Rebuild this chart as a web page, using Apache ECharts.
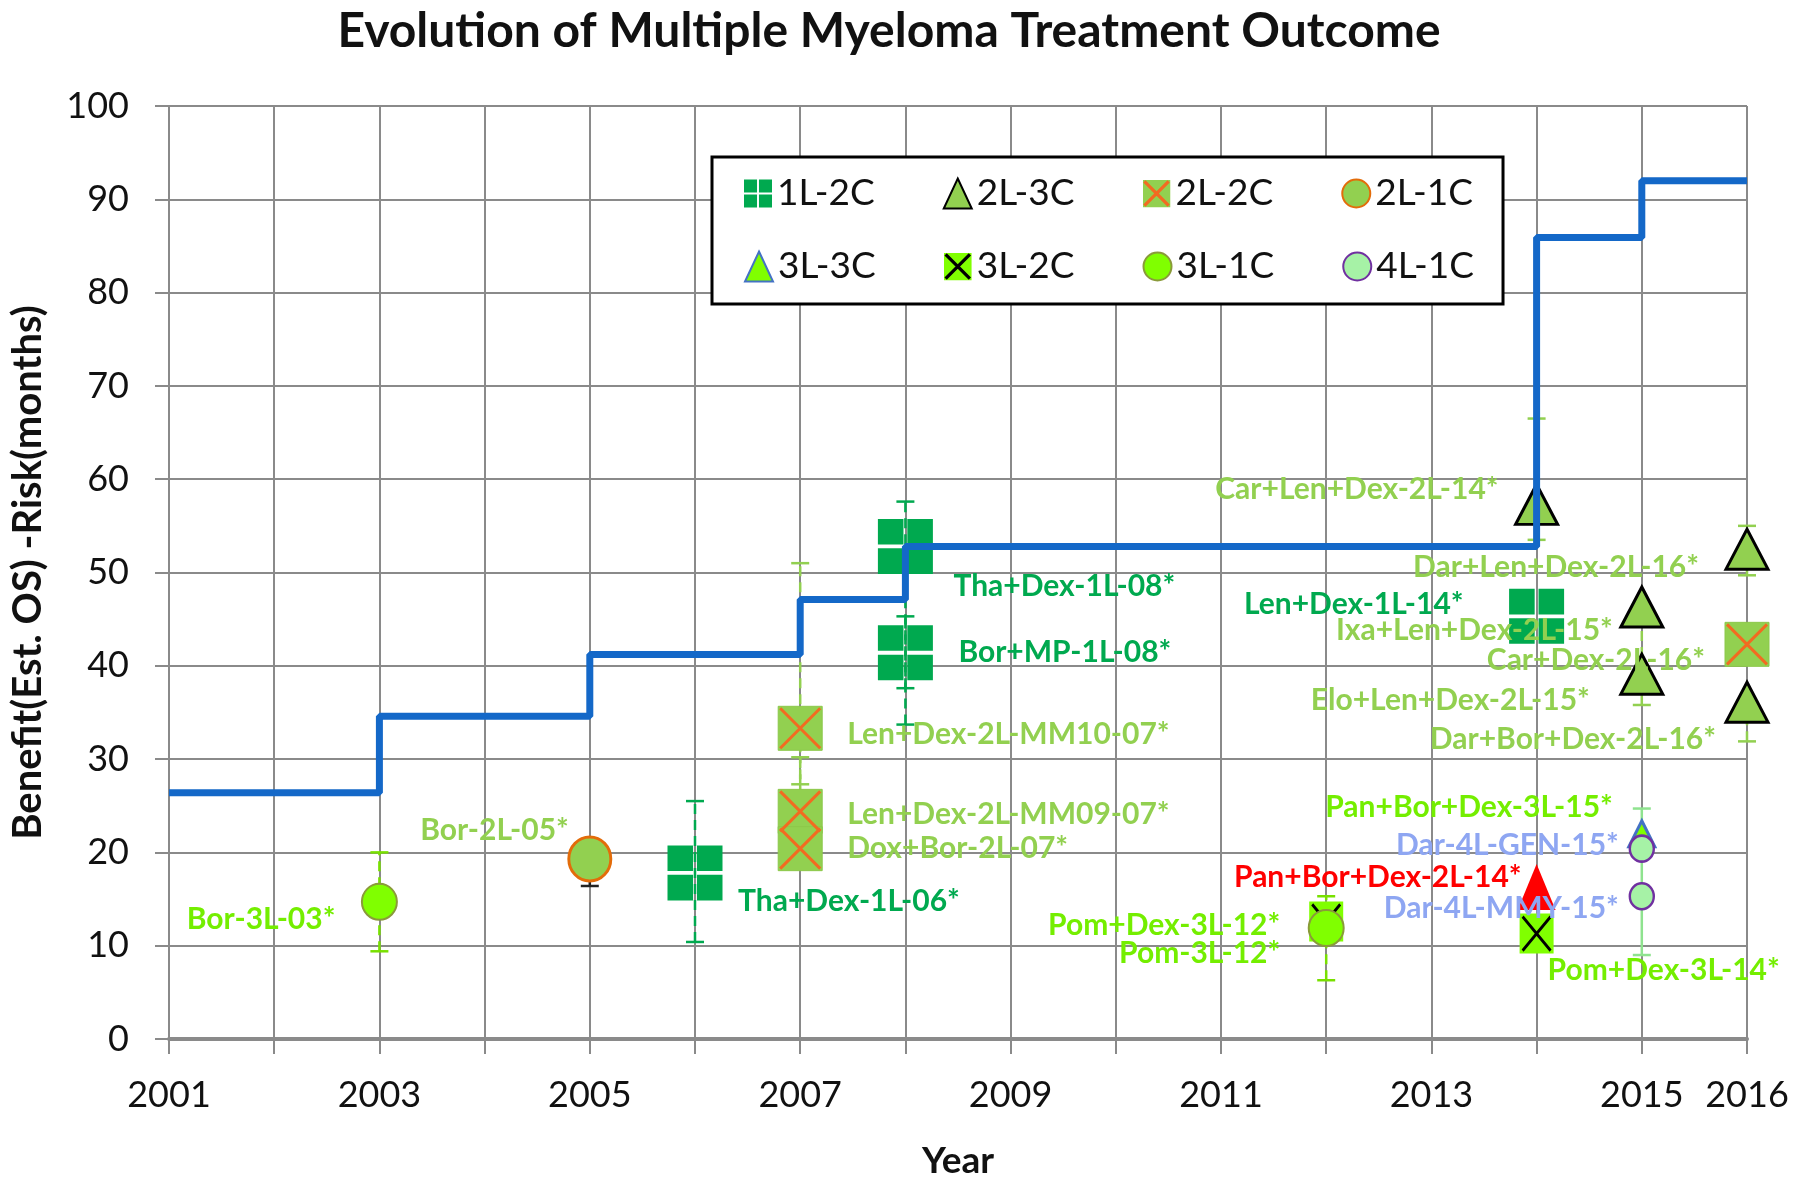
<!DOCTYPE html>
<html><head><meta charset="utf-8">
<script src="https://cdn.jsdelivr.net/npm/echarts@6/dist/echarts.min.js"></script>
<style>html,body{margin:0;padding:0;background:#fff}#c{width:1800px;height:1185px}</style>
</head><body><div id="c"></div>
<script>
// ---------------- DATA ----------------
const xTickLabels = ['2001','2003','2005','2007','2009','2011','2013','2015','2016'];

const stepYears = [2001, 2003, 2005, 2007, 2008, 2014, 2015, 2016];
const stepVals  = [26.4, 34.6, 41.2, 47.1, 52.8, 85.9, 92.0, 92.0];

const years1L2C = [2006, 2008, 2008, 2014];
const vals1L2C  = [17.8, 52.8, 41.4, 45.3];
const names1L2C = ['Tha+Dex-1L-06*', 'Tha+Dex-1L-08*', 'Bor+MP-1L-08*', 'Len+Dex-1L-14*'];

const years2L3C = [2014, 2015, 2015, 2016, 2016];
const vals2L3C  = [57.3, 46.3, 39.1, 52.5, 36.1];
const names2L3C = ['Car+Len+Dex-2L-14*', 'Ixa+Len+Dex-2L-15*', 'Elo+Len+Dex-2L-15*', 'Dar+Len+Dex-2L-16*', 'Dar+Bor+Dex-2L-16*'];

const years2L2C = [2007, 2007, 2007, 2016];
const vals2L2C  = [33.3, 24.4, 20.4, 42.3];
const names2L2C = ['Len+Dex-2L-MM10-07*', 'Len+Dex-2L-MM09-07*', 'Dox+Bor-2L-07*', 'Car+Dex-2L-16*'];

const years2L1C = [2005];
const vals2L1C  = [19.3];
const names2L1C = ['Bor-2L-05*'];

const years3L3C = [2015];
const vals3L3C  = [22.0];
const names3L3C = ['Pan+Bor+Dex-3L-15*'];

const years3L2C = [2012, 2014];
const vals3L2C  = [12.6, 11.3];
const names3L2C = ['Pom-3L-12*', 'Pom+Dex-3L-14*'];

const years3L1C = [2003, 2012];
const vals3L1C  = [14.7, 11.9];
const names3L1C = ['Bor-3L-03*', 'Pom+Dex-3L-12*'];

const years4L1C = [2015, 2015];
const vals4L1C  = [20.4, 15.3];
const names4L1C = ['Dar-4L-GEN-15*', 'Dar-4L-MMY-15*'];

const yearsHi = [2014];
const valsHi  = [16.3];
const namesHi = ['Pan+Bor+Dex-2L-14*'];

// error bars
const errYears = [2003, 2005, 2006, 2007, 2007, 2008, 2008, 2012, 2014, 2015, 2015, 2016, 2016];
const errLow   = [9.4, 16.4, 10.4, 27.3, 24.4, 37.6, 33.7, 6.3, 53.5, 9.0, 35.8, 49.7, 31.9];
const errHigh  = [20.0, 19.3, 25.5, 51.0, 30.2, 57.6, 45.3, 15.3, 66.5, 24.7, 46.3, 55.0, 36.1];
const errGroup = ['3L-1C','2L-1C','1L-2C','2L-2C','2L-2C','1L-2C','1L-2C','3L-1C','2L-3C','4L-1C','2L-3C','2L-3C','2L-3C'];

// ---------------- STYLE / LAYOUT ----------------
const FONT = 'Lato';
const C1 = '#00A94F', C2 = '#92D050', C3 = '#80FF00', C3L = '#74EE00', C4 = '#A6F2A6', C4L = '#8EA6F2';
const ORANGE = '#F26B21';

// label placement relative to marker centre: [align, dx, dy]
const labelPlace = {
  'Bor-3L-03*': ['right', -44, 17],
  'Bor-2L-05*': ['right', -21, -29],
  'Tha+Dex-1L-06*': ['left', 43, 28],
  'Len+Dex-2L-MM10-07*': ['left', 47, 6],
  'Len+Dex-2L-MM09-07*': ['left', 47, 3],
  'Dox+Bor-2L-07*': ['left', 47, 0],
  'Tha+Dex-1L-08*': ['left', 48, 40],
  'Bor+MP-1L-08*': ['left', 53, 0],
  'Car+Len+Dex-2L-14*': ['right', -38, -15],
  'Len+Dex-1L-14*': ['right', -73, -12],
  'Ixa+Len+Dex-2L-15*': ['right', -29, 23],
  'Car+Dex-2L-16*': ['right', -42, 16],
  'Elo+Len+Dex-2L-15*': ['right', -52, 26],
  'Dar+Bor+Dex-2L-16*': ['right', -31, 37],
  'Dar+Len+Dex-2L-16*': ['right', -48, 18],
  'Pan+Bor+Dex-3L-15*': ['right', -29, -26],
  'Dar-4L-GEN-15*': ['right', -23, -3],
  'Dar-4L-MMY-15*': ['right', -23, 12],
  'Pan+Bor+Dex-2L-14*': ['right', -15, -10],
  'Pom+Dex-3L-14*': ['left', 11, 37],
  'Pom+Dex-3L-12*': ['right', -46, -3],
  'Pom-3L-12*': ['right', -46, 32]
};

function pts(years, vals, names, labelColor) {
  return years.map((y, i) => {
    const item = { value: [y, vals[i]], name: names[i] };
    if (labelColor) {
      const p = labelPlace[names[i]];
      item.label = {
        show: true, formatter: '{b}', position: 'inside',
        align: p[0], verticalAlign: 'middle', offset: [p[1], p[2]],
        color: labelColor, fontFamily: FONT, fontWeight: 'bold', fontSize: 30,
        textBorderWidth: 0
      };
    }
    return item;
  });
}

function scatter(name, data, symbol, size, itemStyle, z) {
  return {
    type: 'scatter', name, data, symbol, symbolSize: size,
    itemStyle: Object.assign({ opacity: 1 }, itemStyle),
    z: z || 3, clip: false, silent: true, emphasis: { disabled: true },
    label: { show: false }
  };
}

const crossSquares = 'path://M0,0H9.3V9.3H0Z M10.7,0H20V9.3H10.7Z M0,10.7H9.3V20H0Z M10.7,10.7H20V20H10.7Z';
const xPath = 'path://M0,0L20,20M20,0L0,20';

function svgIcon(fill, stroke) {
  const svg = "<svg xmlns='http://www.w3.org/2000/svg' width='30' height='30' viewBox='0 0 30 30'>" +
    "<rect width='30' height='30' fill='" + fill + "'/>" +
    "<path d='M2,2L28,28M28,2L2,28' stroke='" + stroke + "' stroke-width='3.5' fill='none'/></svg>";
  return 'image://data:image/svg+xml;charset=utf-8,' + encodeURIComponent(svg);
}

const errColor = { '1L-2C': C1, '2L-3C': C2, '2L-2C': C2, '2L-1C': '#222', '3L-1C': '#78E000', '4L-1C': '#8FE38F' };

const chart = echarts.init(document.getElementById('c'));

const legendText = { fontFamily: FONT, fontSize: 37, color: '#111' };

const option = {
  backgroundColor: '#fff',
  animation: false,
  title: {
    text: 'Evolution of Multiple Myeloma Treatment Outcome',
    left: 884, top: 3, textAlign: 'center',
    textStyle: { fontFamily: FONT, fontWeight: 'bold', fontSize: 48, color: '#111' }
  },
  grid: { left: 169, right: 53, top: 106, bottom: 144 },
  legend: [
    {
      data: ['1L-2C', '2L-3C', { name: '2L-2C', icon: svgIcon(C2, ORANGE) }, '2L-1C'],
      left: 712, top: 157, orient: 'horizontal',
      padding: [18, 30, 92, 32], itemGap: 68, itemWidth: 28, itemHeight: 30,
      borderColor: '#000', borderWidth: 3, backgroundColor: '#fff',
      selectedMode: false, textStyle: legendText, z: 20
    },
    {
      data: ['3L-3C', { name: '3L-2C', icon: svgIcon(C3, '#000') }, '3L-1C', '4L-1C'],
      left: 744, top: 248, orient: 'horizontal',
      padding: 0, itemGap: 68, itemWidth: 28, itemHeight: 30,
      selectedMode: false, textStyle: legendText, z: 21
    }
  ],
  xAxis: {
    type: 'value', min: 2001, max: 2016, interval: 1,
    name: 'Year', nameLocation: 'middle', nameGap: 104,
    nameTextStyle: { fontFamily: FONT, fontWeight: 'bold', fontSize: 37, color: '#111' },
    axisLine: { show: true, lineStyle: { color: '#8a8a8a', width: 4 } },
    axisTick: { show: true, length: 15, lineStyle: { color: '#8a8a8a', width: 2 } },
    axisLabel: {
      margin: 38, fontFamily: FONT, fontSize: 36, color: '#111',
      formatter: v => xTickLabels.indexOf(String(v)) >= 0 ? String(v) : ''
    },
    splitLine: { show: true, lineStyle: { color: '#8a8a8a', width: 2 } }
  },
  yAxis: {
    type: 'value', min: 0, max: 100, interval: 10,
    name: 'Benefit(Est. OS) -Risk(months)', nameLocation: 'middle', nameGap: 121, nameRotate: 90,
    nameTextStyle: { fontFamily: FONT, fontWeight: 'bold', fontSize: 40, color: '#111' },
    axisLine: { show: true, lineStyle: { color: '#8a8a8a', width: 2 } },
    axisTick: { show: true, length: 14, lineStyle: { color: '#8a8a8a', width: 2 } },
    axisLabel: { margin: 40, fontFamily: FONT, fontSize: 36, color: '#111' },
    splitLine: { show: true, lineStyle: { color: '#8a8a8a', width: 2 } }
  },
  series: [
    {
      type: 'custom', name: 'err', z: 2, silent: true, clip: false,
      data: errYears.map((y, i) => [y, errLow[i], errHigh[i]]),
      encode: { x: 0, y: [1, 2] },
      renderItem: (params, api) => {
        const x = api.value(0);
        const lo = api.coord([x, api.value(1)]);
        const hi = api.coord([x, api.value(2)]);
        const g = errGroup[params.dataIndex];
        const c = errColor[g];
        const dash = g === '4L-1C' ? null : [10, 6];
        return {
          type: 'group', children: [
            { type: 'line', shape: { x1: lo[0], y1: lo[1], x2: hi[0], y2: hi[1] }, style: { stroke: c, lineWidth: 2.5, lineDash: dash } },
            { type: 'line', shape: { x1: lo[0] - 9, y1: lo[1], x2: lo[0] + 9, y2: lo[1] }, style: { stroke: c, lineWidth: 2.5 } },
            { type: 'line', shape: { x1: hi[0] - 9, y1: hi[1], x2: hi[0] + 9, y2: hi[1] }, style: { stroke: c, lineWidth: 2.5 } }
          ]
        };
      }
    },
    scatter('1L-2C', pts(years1L2C, vals1L2C, names1L2C, C1), crossSquares, [55, 55], { color: C1 }, 3),
    scatter('2L-3C', pts(years2L3C, vals2L3C, names2L3C, C2), 'triangle', [42, 40], { color: C2, borderColor: '#000', borderWidth: 3 }, 3),
    scatter('2L-2C', pts(years2L2C, vals2L2C, names2L2C, C2), 'rect', [44, 44], { color: C2, borderColor: '#8CC84A', borderWidth: 1 }, 3),
    scatter('2L-2C', pts(years2L2C, vals2L2C, names2L2C, null), xPath, [40, 40], { color: 'rgba(0,0,0,0)', borderColor: ORANGE, borderWidth: 3 }, 4),
    scatter('2L-1C', pts(years2L1C, vals2L1C, names2L1C, C2), 'circle', [42, 44], { color: C2, borderColor: '#E36C0A', borderWidth: 3 }, 3),
    scatter('3L-2C', pts(years3L2C, vals3L2C, names3L2C, C3L), 'rect', [34, 40], { color: C3 }, 3),
    scatter('3L-2C', pts(years3L2C, vals3L2C, names3L2C, null), xPath, [28, 34], { color: 'rgba(0,0,0,0)', borderColor: '#000', borderWidth: 3 }, 3),
    scatter('Pan+Bor+Dex-2L-14', pts(yearsHi, valsHi, namesHi, '#FF0000'), 'triangle', [38, 46], { color: '#FF0000' }, 4),
    scatter('3L-1C', pts(years3L1C, vals3L1C, names3L1C, C3L), 'circle', [35, 36], { color: C3, borderColor: '#8A9A3A', borderWidth: 2 }, 4),
    scatter('3L-3C', pts(years3L3C, vals3L3C, names3L3C, C3L), 'triangle', [26, 26], { color: C3, borderColor: '#4472C4', borderWidth: 3 }, 4),
    scatter('4L-1C', pts(years4L1C, vals4L1C, names4L1C, C4L), 'circle', [24, 26], { color: C4, borderColor: '#7030A0', borderWidth: 2.5 }, 4),
    {
      type: 'line', name: 'step', step: 'end', symbol: 'none', z: 6, silent: true,
      data: stepYears.map((y, i) => [y, stepVals[i]]),
      lineStyle: { color: '#1468C8', width: 7 }
    }
  ]
};
chart.setOption(option);
</script></body></html>
